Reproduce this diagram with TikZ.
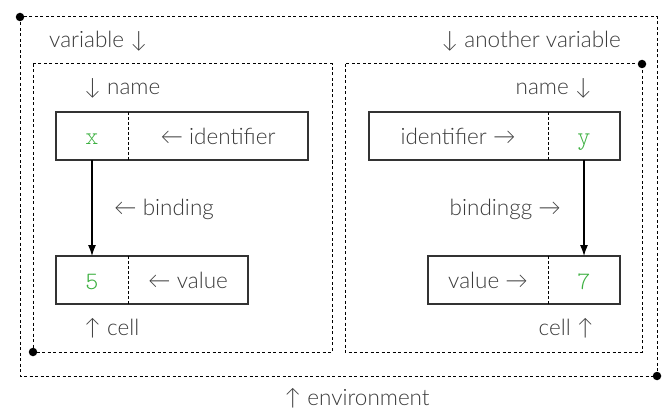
\documentclass[tikz,border=0pt]{standalone}
\usepackage{fontspec}
\setmainfont{Lato Light}
\newfontfamily\codefont{Latin Modern Mono Light}
\usetikzlibrary{arrows.meta}
\definecolor{txt}{HTML}{3A3A3A}
\definecolor{code}{HTML}{3DB041}
\definecolor{ln}{HTML}{333333}
\tikzset{
  frame/.style={draw=black, line width=1pt, dash pattern=on 3pt off 2.5pt},
  cellbox/.style={draw=ln, line width=1.4pt},
  divider/.style={draw=black, line width=1pt, dash pattern=on 3pt off 2pt},
  lbl/.style={text=txt, font=\fontsize{22.5}{24}\selectfont, inner sep=0pt, anchor=base},
  val/.style={text=code, font=\fontsize{25}{27}\selectfont\codefont, inner sep=0pt, anchor=base},
  dot/.style={circle, fill=black, inner sep=0pt, minimum size=8.5pt},
  bind/.style={draw=black, line width=1.2pt, -{Latex[length=11pt,width=8pt]}}
}
\begin{document}
\begin{tikzpicture}[x=1pt,y=-1pt]
\useasboundingbox (0,0) rectangle (667,409);
% frames
\draw[frame] (20,17) rectangle (657,376);
\draw[frame] (33,64) rectangle (332,352);
\draw[frame] (345,64) rectangle (642,352);
\node[dot] (d1) at (20,17) {};
\node[dot] (d2) at (657,376) {};
\node[dot] (d3) at (33,352) {};
\node[dot] (d4) at (642,64) {};
% labels outer
\node[lbl, anchor=base west] (lvar) at (49,48) {variable ↓};
\node[lbl, anchor=base east] (rvar) at (621,48) {↓ another variable};
\node[lbl, anchor=base west] (lname) at (84,95) {↓ name};
\node[lbl, anchor=base east] (rname) at (592,95) {name ↓};
\node[lbl] (env) at (357,405) {↑ environment};
% left identifier cell
\draw[cellbox] (56,112) rectangle (308,160);
\draw[divider] (128,112) -- (128,160);
\node[val] (x) at (92,145) {x};
\node[lbl] (lid) at (218,145) {← identifier};
% left value cell
\draw[cellbox] (56,256) rectangle (248,304);
\draw[divider] (128,256) -- (128,304);
\node[val] (five) at (92,289) {5};
\node[lbl] (lval) at (188,288) {← value};
\node[lbl, anchor=base west] (lcell) at (84,335) {↑ cell};
\node[lbl, anchor=base west] (lbind) at (114,215) {← binding};
\coordinate (xs) at (92,160);
\coordinate (xe) at (92,256);
\draw[bind] (xs) -- (xe);
% right identifier cell
\draw[cellbox] (369,112) rectangle (620,160);
\draw[divider] (548,112) -- (548,160);
\node[val] (y) at (584,145) {y};
\node[lbl] (rid) at (458,145) {identifier →};
% right value cell
\draw[cellbox] (428,256) rectangle (620,304);
\draw[divider] (548,256) -- (548,304);
\node[val] (seven) at (584,289) {7};
\node[lbl] (rval) at (488,288) {value →};
\node[lbl, anchor=base east] (rcell) at (594,335) {cell ↑};
\node[lbl, anchor=base east] (rbind) at (561,215) {bindingg →};
\coordinate (ys) at (584,160);
\coordinate (ye) at (584,256);
\draw[bind] (ys) -- (ye);
\end{tikzpicture}
\end{document}
